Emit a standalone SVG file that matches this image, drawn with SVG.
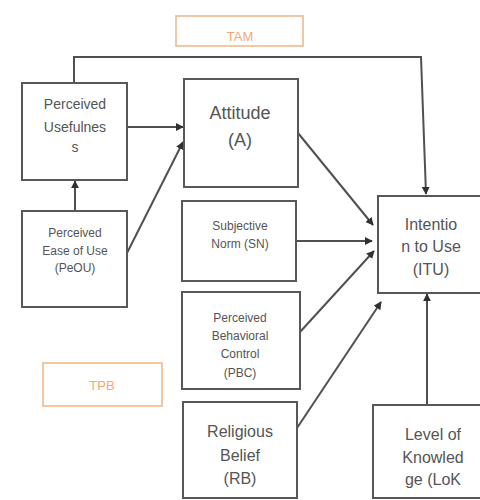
<svg xmlns="http://www.w3.org/2000/svg" width="480" height="500" viewBox="0 0 480 500">
<style>
.box{fill:#ffffff;stroke:#585858;stroke-width:2}
.lbl{fill:#ffffff;stroke:#f0b98c;stroke-width:1.6}
.t{font-family:"Liberation Sans",Arial,sans-serif;fill:#555555;text-anchor:middle}
.o{font-family:"Liberation Sans",Arial,sans-serif;fill:#f2a875;text-anchor:middle;font-size:13px}
.c{fill:none;stroke:#505050;stroke-width:2}
</style>
<defs>
<marker id="ah" viewBox="0 0 10 10" refX="9" refY="5" markerWidth="4" markerHeight="4" orient="auto" markerUnits="strokeWidth">
<path d="M0,0 L10,5 L0,10 z" fill="#303030"/>
</marker>
</defs>
<rect width="480" height="500" fill="#ffffff"/>
<g id="tam">
<rect class="lbl" x="176" y="16" width="127" height="30"/>
<text class="o" x="240" y="41">TAM</text>
</g>
<g id="tpb">
<rect class="lbl" x="43" y="363" width="119" height="43"/>
<text class="o" x="102" y="390">TPB</text>
</g>
<g id="connectors">
<path class="c" d="M74,83 V57 H421 L426,194" marker-end="url(#ah)"/>
<line class="c" x1="127" y1="127" x2="183" y2="127" marker-end="url(#ah)"/>
<line class="c" x1="127" y1="253" x2="183" y2="142" marker-end="url(#ah)"/>
<line class="c" x1="75" y1="211" x2="75" y2="181" marker-end="url(#ah)"/>
<line class="c" x1="298" y1="133" x2="373" y2="225" marker-end="url(#ah)"/>
<line class="c" x1="296" y1="241" x2="372" y2="241" marker-end="url(#ah)"/>
<line class="c" x1="300" y1="332" x2="374" y2="251" marker-end="url(#ah)"/>
<line class="c" x1="297" y1="428" x2="381" y2="302" marker-end="url(#ah)"/>
<line class="c" x1="427" y1="405" x2="427" y2="294" marker-end="url(#ah)"/>
</g>
<g id="pu">
<rect class="box" x="22" y="83" width="105" height="97"/>
<text class="t" font-size="14" x="75" y="109">Perceived</text>
<text class="t" font-size="14" x="75" y="132">Usefulnes</text>
<text class="t" font-size="14" x="75" y="152">s</text>
</g>
<g id="peou">
<rect class="box" x="22" y="211" width="105" height="96"/>
<text class="t" font-size="12" x="75" y="237">Perceived</text>
<text class="t" font-size="12" x="75" y="255">Ease of Use</text>
<text class="t" font-size="12" x="75" y="272">(PeOU)</text>
</g>
<g id="attitude">
<rect class="box" x="184" y="79" width="114" height="108"/>
<text class="t" font-size="18" x="240" y="119">Attitude</text>
<text class="t" font-size="18" x="240" y="146">(A)</text>
</g>
<g id="sn">
<rect class="box" x="182" y="201" width="114" height="80"/>
<text class="t" font-size="12" x="240" y="230">Subjective</text>
<text class="t" font-size="12" x="240" y="248">Norm (SN)</text>
</g>
<g id="pbc">
<rect class="box" x="182" y="292" width="118" height="97"/>
<text class="t" font-size="12" x="240" y="322">Perceived</text>
<text class="t" font-size="12" x="240" y="340">Behavioral</text>
<text class="t" font-size="12" x="240" y="358">Control</text>
<text class="t" font-size="12" x="240" y="377">(PBC)</text>
</g>
<g id="rb">
<rect class="box" x="183" y="402" width="114" height="96"/>
<text class="t" font-size="16" x="240" y="437">Religious</text>
<text class="t" font-size="16" x="240" y="461">Belief</text>
<text class="t" font-size="16" x="240" y="484">(RB)</text>
</g>
<g id="itu">
<rect class="box" x="378" y="196" width="106" height="97"/>
<text class="t" font-size="16" x="431" y="230">Intentio</text>
<text class="t" font-size="16" x="431" y="252">n to Use</text>
<text class="t" font-size="16" x="431" y="275">(ITU)</text>
</g>
<g id="lok">
<rect class="box" x="373" y="405" width="111" height="93"/>
<text class="t" font-size="16" x="433" y="440">Level of</text>
<text class="t" font-size="16" x="433" y="463">Knowled</text>
<text class="t" font-size="16" x="433" y="485">ge (LoK</text>
</g>
</svg>
